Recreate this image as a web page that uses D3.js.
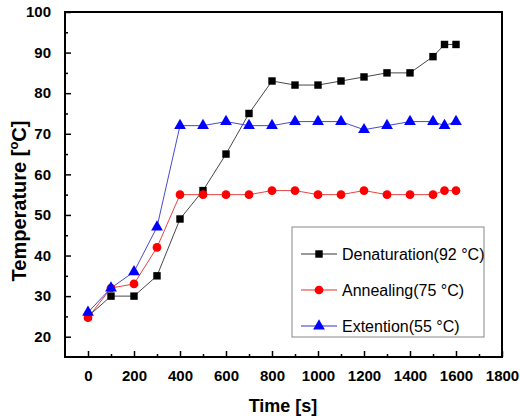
<!DOCTYPE html>
<meta charset="utf-8">
<style>
  body { margin: 0; background: #fff; }
  text { font-family: Arial, "Liberation Sans", sans-serif; }
</style>
<script src="https://d3js.org/d3.v7.min.js"></script>
<svg id="chart" width="520" height="418"></svg>
<script>
// time points [s]
const times = [0, 100, 200, 300, 400, 500, 600, 700, 800, 900, 1000, 1100, 1200, 1300, 1400, 1500, 1550, 1600];

// temperatures [°C]
const denaturation = [25, 30, 30, 35, 49, 56, 65, 75, 83, 82, 82, 83, 84, 85, 85, 89, 92, 92];
const annealing    = [24.7, 32, 33, 42, 55, 55, 55, 55, 56, 56, 55, 55, 56, 55, 55, 55, 56, 56];
const extention    = [26, 32, 36, 47, 72, 72, 73, 72, 72, 73, 73, 73, 71, 72, 73, 73, 72, 73];

const seriesNames = ["Denaturation(92 °C)", "Annealing(75 °C)", "Extention(55 °C)"];

const xTicks = [0, 200, 400, 600, 800, 1000, 1200, 1400, 1600, 1800];
const yTicks = [20, 30, 40, 50, 60, 70, 80, 90, 100];

const svg = d3.select("#chart");
const mLeft = 65, mTop = 12, mRight = 502, mBottom = 357;

const x = d3.scaleLinear().domain([-100, 1800]).range([mLeft, mRight]);
const y = d3.scaleLinear().domain([15, 100]).range([mBottom, mTop]);

const series = [
  { name: seriesNames[0], values: denaturation, color: "#000000", line: "#333333", symbol: d3.symbolSquare, size: 55 },
  { name: seriesNames[1], values: annealing,    color: "#ff0000", line: "#e03030", symbol: d3.symbolCircle, size: 60 },
  { name: seriesNames[2], values: extention,    color: "#0000ff", line: "#3333cc", symbol: d3.symbolTriangle, size: 60 }
];

// lines + markers
const line = d3.line().x(d => x(d[0])).y(d => y(d[1]));

series.forEach(s => {
  const pts = times.map((t, i) => [t, s.values[i]]);
  svg.append("path")
    .datum(pts)
    .attr("d", line)
    .attr("fill", "none")
    .attr("stroke", s.line)
    .attr("stroke-width", 0.9);
});

series.forEach(s => {
  const pts = times.map((t, i) => [t, s.values[i]]);
  svg.append("g").selectAll("path")
    .data(pts)
    .join("path")
    .attr("transform", d => `translate(${x(d[0])},${y(d[1])})`)
    .attr("d", d3.symbol().type(s.symbol).size(s.size))
    .attr("fill", s.color);
});

// frame
svg.append("rect")
  .attr("x", mLeft).attr("y", mTop)
  .attr("width", mRight - mLeft).attr("height", mBottom - mTop)
  .attr("fill", "none").attr("stroke", "#000").attr("stroke-width", 2);

// x axis (ticks inward)
const xAxis = svg.append("g")
  .attr("transform", `translate(0,${mBottom})`)
  .call(d3.axisBottom(x).tickValues(xTicks).tickFormat(d3.format("d"))
    .tickSizeInner(-6).tickSizeOuter(0).tickPadding(13));
xAxis.select(".domain").remove();
xAxis.selectAll("line").attr("stroke-width", 1.5);
xAxis.selectAll("text").attr("font-size", 15).attr("font-weight", "bold").attr("fill", "#000")
  .attr("font-family", "Arial, 'Liberation Sans', sans-serif");

svg.append("g")
  .attr("transform", `translate(0,${mBottom})`)
  .call(d3.axisBottom(x).tickValues(d3.range(100, 1800, 200)).tickSizeInner(-3).tickSizeOuter(0).tickFormat(""))
  .call(g => g.select(".domain").remove())
  .selectAll("line").attr("stroke-width", 1.5);

// y axis
const yAxis = svg.append("g")
  .attr("transform", `translate(${mLeft},0)`)
  .call(d3.axisLeft(y).tickValues(yTicks).tickSizeInner(-6).tickSizeOuter(0).tickPadding(14));
yAxis.select(".domain").remove();
yAxis.selectAll("line").attr("stroke-width", 1.5);
yAxis.selectAll("text").attr("font-size", 15).attr("font-weight", "bold").attr("fill", "#000")
  .attr("font-family", "Arial, 'Liberation Sans', sans-serif");

svg.append("g")
  .attr("transform", `translate(${mLeft},0)`)
  .call(d3.axisLeft(y).tickValues(d3.range(25, 100, 10)).tickSizeInner(-3).tickSizeOuter(0).tickFormat(""))
  .call(g => g.select(".domain").remove())
  .selectAll("line").attr("stroke-width", 1.5);

// axis titles
svg.append("text")
  .attr("x", 283).attr("y", 412)
  .attr("text-anchor", "middle")
  .attr("font-size", 18).attr("font-weight", "bold")
  .text("Time [s]");

const yl = svg.append("text")
  .attr("transform", "translate(26,201) rotate(-90)")
  .attr("text-anchor", "middle")
  .attr("font-size", 20).attr("font-weight", "bold");
yl.append("tspan").text("Temperature [");
yl.append("tspan").attr("font-size", 13).attr("dy", -8).text("o");
yl.append("tspan").attr("dy", 8).text("C]");

// legend
const legend = svg.append("g").attr("transform", "translate(292,227)");
legend.append("rect")
  .attr("width", 192).attr("height", 110)
  .attr("fill", "#fff").attr("stroke", "#888").attr("stroke-width", 1);

series.forEach((s, i) => {
  const ly = 27 + i * 36;
  legend.append("line")
    .attr("x1", 9).attr("x2", 45).attr("y1", ly).attr("y2", ly)
    .attr("stroke", s.line).attr("stroke-width", 1);
  legend.append("path")
    .attr("transform", `translate(27,${ly})`)
    .attr("d", d3.symbol().type(s.symbol).size(s.size))
    .attr("fill", s.color);
  legend.append("text")
    .attr("x", 50).attr("y", ly + 6)
    .attr("font-size", 16)
    .text(s.name);
});
</script>
